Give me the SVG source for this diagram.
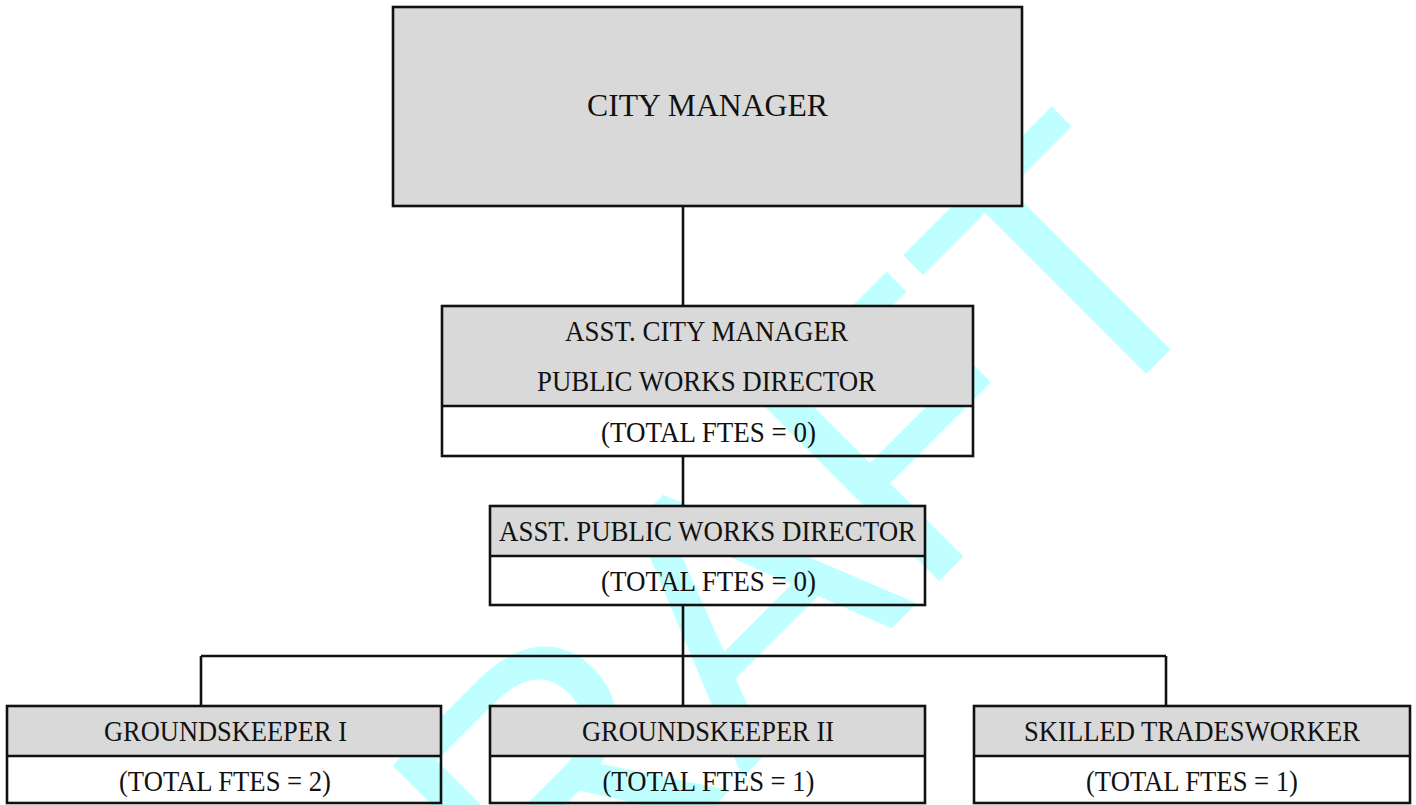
<svg xmlns="http://www.w3.org/2000/svg" width="1416" height="805" viewBox="0 0 1416 805">
<style>
.hd{fill:#d9d9d9;stroke:none}
.bx{fill:none;stroke:#111;stroke-width:2.6}
.ln{fill:none;stroke:#111;stroke-width:2.6}
.t{font-family:"Liberation Serif","Times New Roman",serif;font-size:30px;fill:#111;text-anchor:middle}
.wm{font-family:"Liberation Sans",Arial,sans-serif;font-size:372px;fill:#c0ffff}
</style>
<rect width="1416" height="805" fill="#fff"/>
<g id="watermark">
<text class="wm" x="362" y="1158" transform="rotate(-45 362 1158)">DRAFT</text>
</g>
<g id="connectors">
<path class="ln" d="M683 206V306M683 456V506M683 605V706M201 656H1166M201 656V706M1166 656V706"/>
</g>
<g id="city-manager">
<rect class="hd" x="393" y="7" width="629" height="199"/>
<rect class="bx" x="393" y="7" width="629" height="199"/>
<text class="t" x="707.5" y="116" style="font-size:32px" textLength="241" lengthAdjust="spacingAndGlyphs">CITY MANAGER</text>
</g>
<g id="asst-city-manager">
<rect class="hd" x="442" y="306" width="531" height="100"/>
<rect class="bx" x="442" y="306" width="531" height="150"/>
<line class="ln" x1="442" y1="406" x2="973" y2="406"/>
<text class="t" x="706.5" y="341" textLength="283" lengthAdjust="spacingAndGlyphs">ASST. CITY MANAGER</text>
<text class="t" x="706.5" y="391" textLength="339" lengthAdjust="spacingAndGlyphs">PUBLIC WORKS DIRECTOR</text>
<text class="t" x="708.5" y="442" textLength="215" lengthAdjust="spacingAndGlyphs">(TOTAL FTES = 0)</text>
</g>
<g id="asst-public-works-director">
<rect class="hd" x="490" y="506" width="435" height="50"/>
<rect class="bx" x="490" y="506" width="435" height="99"/>
<line class="ln" x1="490" y1="556" x2="925" y2="556"/>
<text class="t" x="707.5" y="541" textLength="417" lengthAdjust="spacingAndGlyphs">ASST. PUBLIC WORKS DIRECTOR</text>
<text class="t" x="708.5" y="591" textLength="215" lengthAdjust="spacingAndGlyphs">(TOTAL FTES = 0)</text>
</g>
<g id="groundskeeper-1">
<rect class="hd" x="7" y="706" width="434" height="50"/>
<rect class="bx" x="7" y="706" width="434" height="97"/>
<line class="ln" x1="7" y1="756" x2="441" y2="756"/>
<text class="t" x="225.5" y="741" textLength="243" lengthAdjust="spacingAndGlyphs">GROUNDSKEEPER I</text>
<text class="t" x="225" y="791" textLength="212" lengthAdjust="spacingAndGlyphs">(TOTAL FTES = 2)</text>
</g>
<g id="groundskeeper-2">
<rect class="hd" x="490" y="706" width="435" height="50"/>
<rect class="bx" x="490" y="706" width="435" height="97"/>
<line class="ln" x1="490" y1="756" x2="925" y2="756"/>
<text class="t" x="708" y="741" textLength="252" lengthAdjust="spacingAndGlyphs">GROUNDSKEEPER II</text>
<text class="t" x="708.5" y="791" textLength="212" lengthAdjust="spacingAndGlyphs">(TOTAL FTES = 1)</text>
</g>
<g id="skilled-tradesworker">
<rect class="hd" x="974" y="706" width="436" height="50"/>
<rect class="bx" x="974" y="706" width="436" height="97"/>
<line class="ln" x1="974" y1="756" x2="1410" y2="756"/>
<text class="t" x="1192" y="741" textLength="336" lengthAdjust="spacingAndGlyphs">SKILLED TRADESWORKER</text>
<text class="t" x="1192" y="791" textLength="212" lengthAdjust="spacingAndGlyphs">(TOTAL FTES = 1)</text>
</g>
</svg>
